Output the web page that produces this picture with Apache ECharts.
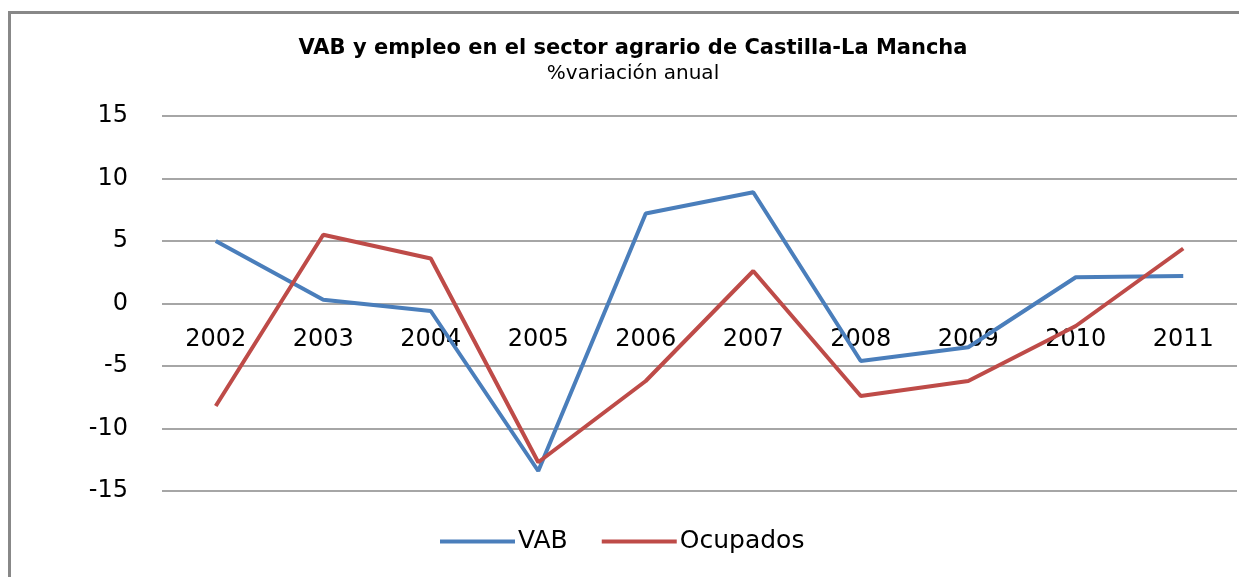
<!DOCTYPE html>
<html>
<head>
<meta charset="utf-8">
<script src="https://cdn.jsdelivr.net/npm/echarts@6/dist/echarts.min.js"></script>
<style>
  html, body { margin: 0; padding: 0; background: #fff; overflow: hidden; }
  #frame { position: absolute; left: 8px; top: 11px; width: 1240px; height: 580px;
           border-top: 3px solid #888; border-left: 3px solid #888; }
  #main { position: absolute; left: 0; top: 0; width: 1239px; height: 577px; }
</style>
</head>
<body>
<div id="frame"></div>
<div id="main"></div>
<script>
// data
const years = ["2002", "2003", "2004", "2005", "2006", "2007", "2008", "2009", "2010", "2011"]
const vab = [5.0, 0.3, -0.6, -13.4, 7.2, 8.9, -4.6, -3.5, 2.1, 2.2]
const ocupados = [-8.2, 5.5, 3.6, -12.7, -6.2, 2.6, -7.4, -6.2, -1.8, 4.4]

const font = "DejaVu Sans"

const options = {
  animation: false,
  title: {
    text: "VAB y empleo en el sector agrario de Castilla-La Mancha",
    subtext: "%variación anual",
    left: 628,
    textAlign: "center",
    top: 33,
    itemGap: 5,
    textStyle: { fontFamily: font, fontWeight: "bold", fontSize: 21, color: "#000" },
    subtextStyle: { fontFamily: font, fontSize: 20, color: "#000" }
  },
  legend: {
    bottom: 18,
    left: 435,
    itemWidth: 75,
    itemHeight: 4,
    itemGap: 34,
    icon: "rect",
    textStyle: { fontFamily: font, fontSize: 25, color: "#000", padding: [0, 0, 0, -2] },
    data: ["VAB", "Ocupados"]
  },
  grid: { left: 162, right: 2, top: 116, bottom: 86, containLabel: false },
  xAxis: {
    type: "category",
    data: years,
    boundaryGap: true,
    position: "bottom",
    offset: -187.5,
    axisLine: { show: false },
    axisTick: { show: false },
    axisLabel: { fontFamily: font, fontSize: 24, color: "#000", margin: 24 }
  },
  yAxis: {
    type: "value",
    min: -15,
    max: 15,
    interval: 5,
    axisLine: { show: false },
    axisTick: { show: false },
    axisLabel: { fontFamily: font, fontSize: 24, color: "#000", margin: 34 },
    splitLine: { lineStyle: { color: "#888", width: 1.5 } }
  },
  series: [
    {
      name: "VAB", type: "line", data: vab, symbol: "none",
      lineStyle: { color: "#4A7EBB", width: 4 }, itemStyle: { color: "#4A7EBB" }
    },
    {
      name: "Ocupados", type: "line", data: ocupados, symbol: "none",
      lineStyle: { color: "#BE4B48", width: 4 }, itemStyle: { color: "#BE4B48" }
    }
  ]
}

// chart
const myChart = echarts.init(document.getElementById("main"))
myChart.setOption(options)
window.onresize = () => myChart.resize()
</script>
</body>
</html>
